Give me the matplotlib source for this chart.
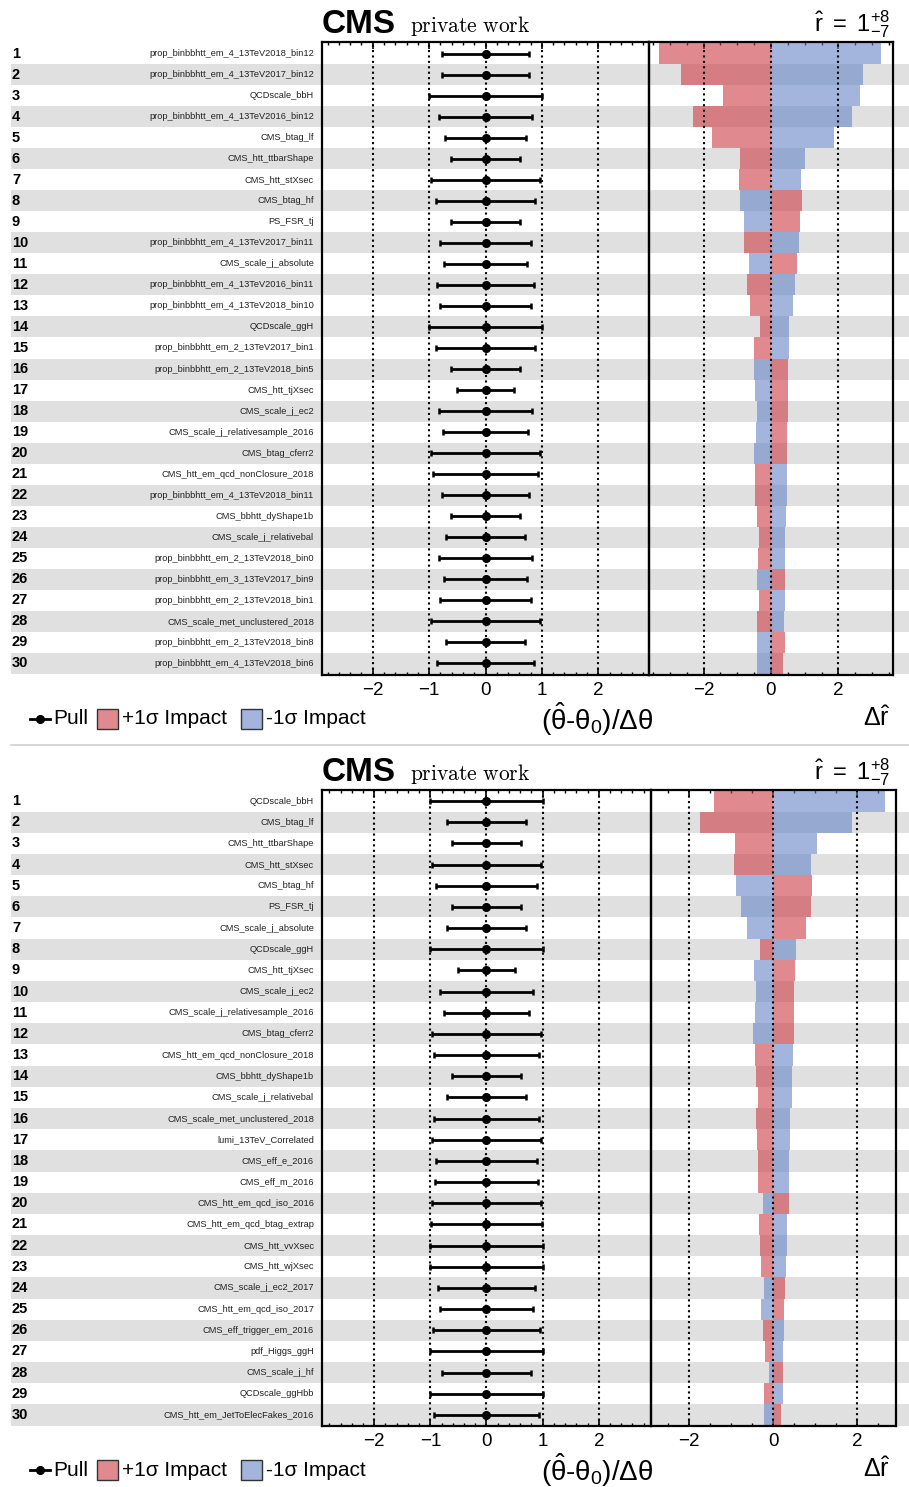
import numpy as np
import matplotlib
matplotlib.use("Agg")
import matplotlib.pyplot as plt
from matplotlib.patches import Rectangle
from matplotlib.lines import Line2D
from matplotlib.ticker import MultipleLocator

plt.rcParams["font.family"] = ["Liberation Sans", "DejaVu Sans"]
plt.rcParams["mathtext.fontset"] = "custom"
plt.rcParams["mathtext.rm"] = "Liberation Sans"
plt.rcParams["mathtext.it"] = "Liberation Sans"
plt.rcParams["mathtext.bf"] = "Liberation Sans:bold"

# ---- data: top plot (ranked impacts, set A) ----
top_names = [
    "prop_binbbhtt_em_4_13TeV2018_bin12", "prop_binbbhtt_em_4_13TeV2017_bin12",
    "QCDscale_bbH", "prop_binbbhtt_em_4_13TeV2016_bin12", "CMS_btag_lf",
    "CMS_htt_ttbarShape", "CMS_htt_stXsec", "CMS_btag_hf", "PS_FSR_tj",
    "prop_binbbhtt_em_4_13TeV2017_bin11", "CMS_scale_j_absolute",
    "prop_binbbhtt_em_4_13TeV2016_bin11", "prop_binbbhtt_em_4_13TeV2018_bin10",
    "QCDscale_ggH", "prop_binbbhtt_em_2_13TeV2017_bin1",
    "prop_binbbhtt_em_2_13TeV2018_bin5", "CMS_htt_tjXsec", "CMS_scale_j_ec2",
    "CMS_scale_j_relativesample_2016", "CMS_btag_cferr2",
    "CMS_htt_em_qcd_nonClosure_2018", "prop_binbbhtt_em_4_13TeV2018_bin11",
    "CMS_bbhtt_dyShape1b", "CMS_scale_j_relativebal",
    "prop_binbbhtt_em_2_13TeV2018_bin0", "prop_binbbhtt_em_3_13TeV2017_bin9",
    "prop_binbbhtt_em_2_13TeV2018_bin1", "CMS_scale_met_unclustered_2018",
    "prop_binbbhtt_em_2_13TeV2018_bin8", "prop_binbbhtt_em_4_13TeV2018_bin6",
]
top_pull_err = [0.77, 0.78, 1.00, 0.82, 0.71, 0.62, 0.97, 0.88, 0.62, 0.81,
                0.74, 0.86, 0.80, 1.00, 0.88, 0.62, 0.50, 0.82, 0.76, 0.97,
                0.93, 0.78, 0.62, 0.70, 0.82, 0.74, 0.80, 0.96, 0.70, 0.86]
top_imp_up = [-3.32, -2.66, -1.43, -2.30, -1.76, -0.93, -0.95, 0.92, 0.87, -0.79,
              0.77, -0.71, -0.63, -0.34, -0.51, 0.49, 0.49, 0.49, 0.48, 0.48,
              -0.46, -0.46, -0.42, -0.36, -0.40, 0.42, -0.37, -0.43, 0.42, 0.37]
top_imp_dn = [3.27, 2.72, 2.64, 2.41, 1.86, 1.02, 0.90, -0.91, -0.79, 0.83,
              -0.64, 0.72, 0.66, 0.54, 0.52, -0.49, -0.48, -0.42, -0.44, -0.49,
              0.46, 0.46, 0.45, 0.43, 0.43, -0.42, 0.41, 0.40, -0.43, -0.42]

# ---- data: bottom plot (ranked impacts, set B) ----
bot_names = [
    "QCDscale_bbH", "CMS_btag_lf", "CMS_htt_ttbarShape", "CMS_htt_stXsec",
    "CMS_btag_hf", "PS_FSR_tj", "CMS_scale_j_absolute", "QCDscale_ggH",
    "CMS_htt_tjXsec", "CMS_scale_j_ec2", "CMS_scale_j_relativesample_2016",
    "CMS_btag_cferr2", "CMS_htt_em_qcd_nonClosure_2018", "CMS_bbhtt_dyShape1b",
    "CMS_scale_j_relativebal", "CMS_scale_met_unclustered_2018",
    "lumi_13TeV_Correlated", "CMS_eff_e_2016", "CMS_eff_m_2016",
    "CMS_htt_em_qcd_iso_2016", "CMS_htt_em_qcd_btag_extrap", "CMS_htt_vvXsec",
    "CMS_htt_wjXsec", "CMS_scale_j_ec2_2017", "CMS_htt_em_qcd_iso_2017",
    "CMS_eff_trigger_em_2016", "pdf_Higgs_ggH", "CMS_scale_j_hf",
    "QCDscale_ggHbb", "CMS_htt_em_JetToElecFakes_2016",
]
bot_pull_err = [1.00, 0.71, 0.62, 0.97, 0.90, 0.62, 0.71, 1.00, 0.50, 0.82,
                0.76, 0.97, 0.93, 0.62, 0.70, 0.94, 0.97, 0.90, 0.91, 0.97,
                0.98, 1.00, 1.00, 0.86, 0.83, 0.96, 1.00, 0.80, 1.00, 0.93]
bot_imp_up = [-1.40, -1.74, -0.91, -0.93, 0.93, 0.89, 0.79, -0.32, 0.51, 0.50,
              0.49, 0.49, -0.44, -0.40, -0.36, -0.41, -0.38, -0.36, -0.36, 0.37,
              -0.34, -0.32, -0.29, 0.29, 0.27, -0.25, -0.20, 0.23, -0.22, 0.18]
bot_imp_dn = [2.66, 1.87, 1.04, 0.91, -0.87, -0.77, -0.62, 0.55, -0.46, -0.40,
              -0.42, -0.47, 0.47, 0.46, 0.44, 0.40, 0.41, 0.38, 0.37, -0.24,
              0.34, 0.32, 0.30, -0.22, -0.28, 0.27, 0.24, -0.10, 0.23, -0.21]

W, H = 909, 1487
RED = (0.80, 0.23, 0.27)
BLUE = (0.40, 0.52, 0.78)
ALPHA = 0.6
BAND = "#e0e0e0"

fig = plt.figure(figsize=(W / 100, H / 100), dpi=100)


def fbox(x0, y0, x1, y1):
    # pixel box (top-left origin) -> figure fraction rect
    return [x0 / W, 1 - y1 / H, (x1 - x0) / W, (y1 - y0) / H]


def style_x(ax, lim, major, minor):
    ax.set_xlim(*lim)
    ax.xaxis.set_major_locator(MultipleLocator(major))
    ax.xaxis.set_minor_locator(MultipleLocator(minor))
    ax.tick_params(axis="x", which="both", direction="in", top=True, bottom=True,
                   labelsize=13.5, pad=5)
    ax.tick_params(axis="x", which="major", length=5, width=1.2)
    ax.tick_params(axis="x", which="minor", length=2.5, width=1.0)
    ax.set_yticks([])
    for s in ax.spines.values():
        s.set_linewidth(1.6)


def panel(names, pull_err, imp_up, imp_dn, top, bottom, x_split, x_right,
          pull_lim, imp_lim, ylim):
    n = len(names)
    pos = np.arange(1, n + 1)

    bg = fig.add_axes(fbox(0, top, W, bottom))
    bg.set_xlim(0, W)
    bg.set_ylim(ylim[1], ylim[0])
    bg.axis("off")
    for p in pos[1::2]:
        bg.axhspan(p - 0.5, p + 0.5, xmin=11 / W, xmax=1, color=BAND, lw=0)
    for p, name in zip(pos, names):
        bg.text(12, p, str(p), ha="left", va="center", fontsize=10.5,
                fontweight="bold")
        bg.text(314, p, name, ha="right", va="center", fontsize=6.7,
                color="#222222")

    axp = fig.add_axes(fbox(322, top, x_split, bottom))
    axp.set_facecolor("none")
    for v in [-2, -1, 0, 1, 2]:
        axp.axvline(v, color="k", lw=1.5, ls=(0, (1, 1.6)), zorder=1)
    axp.errorbar(np.zeros(n), pos, xerr=pull_err, fmt="o", color="k", ms=5.5,
                 elinewidth=2, capsize=2.3, capthick=1.8, zorder=3)
    axp.set_ylim(ylim[1], ylim[0])
    style_x(axp, pull_lim, 1, 0.2)

    axi = fig.add_axes(fbox(x_split, top, x_right, bottom))
    axi.set_facecolor("none")
    axi.barh(pos, imp_up, height=1.0, color=RED, alpha=ALPHA, lw=0, zorder=2)
    axi.barh(pos, imp_dn, height=1.0, color=BLUE, alpha=ALPHA, lw=0, zorder=2)
    for v in [-2, 0, 2]:
        axi.axvline(v, color="k", lw=1.5, ls=(0, (1, 1.6)), zorder=3)
    axi.set_ylim(ylim[1], ylim[0])
    style_x(axi, imp_lim, 2, 0.5)
    return axp, axi


panel(top_names, top_pull_err, top_imp_up, top_imp_dn, 42, 675, 649, 893,
      (-2.9, 2.9), (-3.62, 3.62), (0.45, 30.55))
panel(bot_names, bot_pull_err, bot_imp_up, bot_imp_dn, 790, 1426, 651, 896,
      (-2.93, 2.93), (-2.9, 2.92), (0.48, 30.52))

# ---- overlay for titles, axis titles and legends (pixel coordinates) ----
ov = fig.add_axes([0, 0, 1, 1])
ov.set_xlim(0, W)
ov.set_ylim(H, 0)
ov.axis("off")
ov.set_zorder(10)

ov.add_line(Line2D([11, W], [745, 745], color="#d0d0d0", lw=1.2))

for dy, leg_y in [(0, 719), (748, 1470)]:
    ov.text(322, 33 + dy, "CMS", fontsize=24, fontweight="bold", ha="left",
            va="baseline")
    ov.text(410, 32 + dy, r"$\mathrm{private\ work}$", fontsize=15.5,
            math_fontfamily="cm", ha="left", va="baseline")
    ov.text(890, 31 + dy, r"$\hat{\mathrm{r}}\ =\ 1^{+8}_{-7}$", fontsize=17,
            ha="right", va="baseline")
    ov.text(541, leg_y, r"$(\hat{\theta}$-$\theta_{0})/\Delta\theta$",
            fontsize=20, ha="left", va="center")
    ov.text(891, leg_y, r"$\Delta\hat{\mathrm{r}}$", fontsize=18, ha="right",
            va="center")
    # legend
    ov.add_line(Line2D([30, 50], [leg_y, leg_y], color="k", lw=2))
    ov.plot([40], [leg_y], "o", color="k", ms=5.5)
    ov.text(53, leg_y, "Pull", fontsize=15, ha="left", va="center")
    ov.add_patch(Rectangle((97, leg_y - 10), 21, 20, facecolor=RED,
                           alpha=ALPHA, edgecolor="none"))
    ov.add_patch(Rectangle((97, leg_y - 10), 21, 20, facecolor="none",
                           edgecolor="#333333", lw=1))
    ov.text(122, leg_y, "+1σ Impact", fontsize=15, ha="left", va="center")
    ov.add_patch(Rectangle((241, leg_y - 10), 21, 20, facecolor=BLUE,
                           alpha=ALPHA, edgecolor="none"))
    ov.add_patch(Rectangle((241, leg_y - 10), 21, 20, facecolor="none",
                           edgecolor="#333333", lw=1))
    ov.text(266, leg_y, "-1σ Impact", fontsize=15, ha="left", va="center")

fig.savefig("out.png", dpi=100)
